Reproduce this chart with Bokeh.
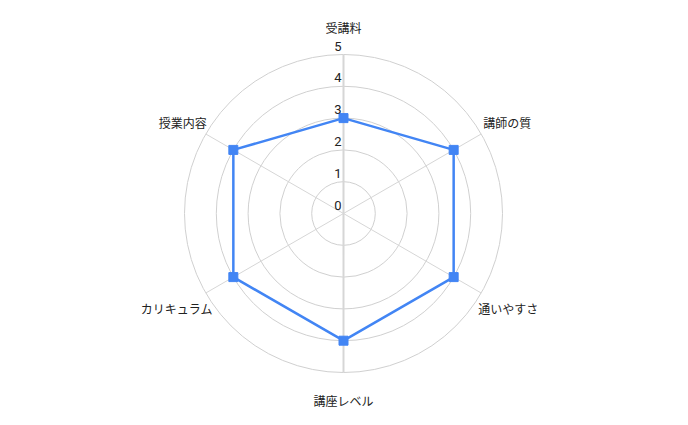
import math
from bokeh.plotting import figure
from bokeh.models import Range1d
from bokeh.core.properties import value
from bokeh.embed import file_html
from bokeh.resources import INLINE

categories = ['受講料', '講師の質', '通いやすさ', '講座レベル', 'カリキュラム', '授業内容']
scores = [3, 4, 4, 4, 4, 4]
ticks = [0, 1, 2, 3, 4, 5]
max_value = 5

W, H = 672, 409
cx, cy = 343, 213          # centre of the web in plot pixels
px = 31.8                  # pixels per unit

p = figure(width=W, height=H, output_backend="svg", toolbar_location=None,
           x_range=Range1d(-cx / px, (W - cx) / px),
           y_range=Range1d(-(H - cy) / px, cy / px),
           min_border=0)
p.axis.visible = False
p.grid.visible = False
p.outline_line_color = None

n = len(categories)
angles = [2 * math.pi * i / n for i in range(n)]

# rings
p.circle(x=[0] * (len(ticks) - 1), y=[0] * (len(ticks) - 1), radius=ticks[1:],
         fill_color=None, line_color="#d0d0d0", line_width=1)

# spokes
for i, a in enumerate(angles):
    lw = 2 if i in (0, 3) else 1
    p.segment(x0=[0], y0=[0], x1=[max_value * math.sin(a)], y1=[max_value * math.cos(a)],
              line_color="#d6d6d6", line_width=lw)

# series
xs = [v * math.sin(a) for v, a in zip(scores, angles)]
ys = [v * math.cos(a) for v, a in zip(scores, angles)]
p.line(xs + xs[:1], ys + ys[:1], line_color="#4285f4", line_width=2.5)
p.scatter(xs, ys, marker="square", size=9, fill_color="#4285f4", line_color="#4285f4")

# tick labels
p.text(x=[0] * len(ticks), y=ticks, text=[str(t) for t in ticks],
       text_align="right", text_baseline="bottom", x_offset=-2, y_offset=-4,
       text_font=value("Roboto"), text_font_size="13px", text_color="#222222")

# category labels
aligns = ["center", "left", "left", "center", "right", "right"]
x_offs = [0, 2, -3, 0, 7, 1]
y_offs = [-27, -12, 15, 28, 15, -12]
lx = [max_value * math.sin(a) for a in angles]
ly = [max_value * math.cos(a) for a in angles]
for i in range(n):
    p.text(x=[lx[i]], y=[ly[i]], text=[categories[i]], text_align=aligns[i],
           text_baseline="middle", x_offset=x_offs[i], y_offset=y_offs[i],
           text_font=value("Noto Sans CJK JP"), text_font_size="12px",
           text_color="#222222")

open("out.html", "w").write(file_html(p, INLINE))
